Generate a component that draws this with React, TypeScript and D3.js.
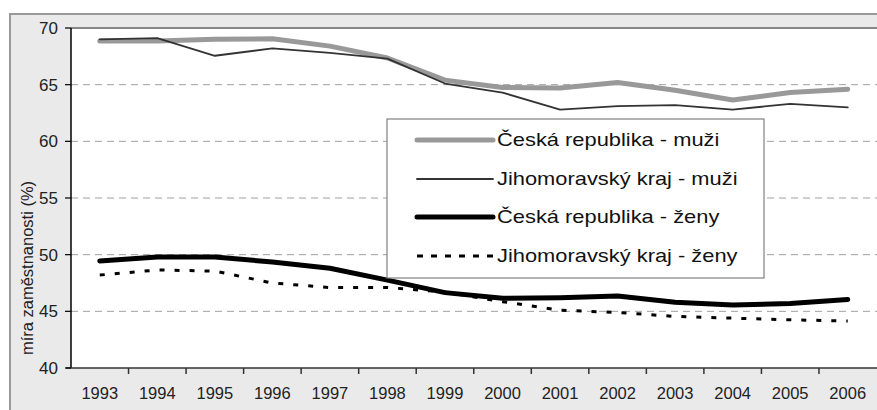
import * as d3 from "d3";

const years = [
  "1993", "1994", "1995", "1996", "1997", "1998", "1999",
  "2000", "2001", "2002", "2003", "2004", "2005", "2006",
];
const crMuzi = [68.85, 68.85, 69.0, 69.05, 68.4, 67.35, 65.4, 64.75, 64.7, 65.2, 64.5, 63.65, 64.3, 64.6];
const jmkMuzi = [69.0, 69.1, 67.55, 68.2, 67.8, 67.3, 65.1, 64.3, 62.8, 63.1, 63.2, 62.8, 63.3, 63.0];
const crZeny = [49.45, 49.8, 49.8, 49.35, 48.8, 47.75, 46.65, 46.15, 46.2, 46.35, 45.8, 45.55, 45.7, 46.05];
const jmkZeny = [48.2, 48.65, 48.55, 47.5, 47.1, 47.1, 46.7, 45.85, 45.1, 44.9, 44.55, 44.4, 44.25, 44.15];
const yTicks = [40, 45, 50, 55, 60, 65, 70];

const series = [
  { name: "Česká republika - muži", values: crMuzi, color: "#999999", width: 5, dash: "" },
  { name: "Jihomoravský kraj - muži", values: jmkMuzi, color: "#333333", width: 1.8, dash: "" },
  { name: "Česká republika - ženy", values: crZeny, color: "#000000", width: 5, dash: "" },
  { name: "Jihomoravský kraj - ženy", values: jmkZeny, color: "#000000", width: 3, dash: "5 10" },
];

export default function App() {
  const width = 877;
  const height = 410;
  const plot = { left: 71, top: 28, right: 876.5, bottom: 368 };
  const font = "'Liberation Sans', Arial, sans-serif";

  const x = d3.scaleBand().domain(years).range([plot.left, plot.right]);
  const y = d3.scaleLinear().domain([40, 70]).range([plot.bottom, plot.top]);
  const cx = (year: string) => (x(year) ?? 0) + x.bandwidth() / 2;

  const line = (values: number[]) =>
    d3
      .line<number>()
      .x((_, i) => cx(years[i]))
      .y((v) => y(v))(values) ?? "";

  const legend = { x: 387, y: 119, w: 377, h: 159 };
  const legendRows = [140, 179, 217, 256];

  return (
    <svg
      width={width}
      height={height}
      style={{ position: "absolute", left: 0, top: 0, display: "block" }}
      fontFamily={font}
    >
      <rect x={0} y={0} width={width} height={height} fill="#ffffff" />
      <rect x={10} y={14} width={width + 20} height={height + 20} fill="#eaeaea" stroke="#999999" strokeWidth={2} />
      <rect x={plot.left} y={plot.top} width={plot.right - plot.left + 10} height={plot.bottom - plot.top} fill="#ffffff" />
      <line x1={plot.left} x2={width} y1={plot.top} y2={plot.top} stroke="#888888" strokeWidth={2} />

      {yTicks
        .filter((t) => t > 40 && t < 70)
        .map((t) => (
          <line
            key={`g${t}`}
            x1={plot.left}
            x2={width}
            y1={y(t)}
            y2={y(t)}
            stroke="#a0a0a0"
            strokeWidth={1}
            strokeDasharray="7 5"
          />
        ))}

      {series.map((s) => (
        <path
          key={s.name}
          d={line(s.values)}
          fill="none"
          stroke={s.color}
          strokeWidth={s.width}
          strokeDasharray={s.dash || undefined}
          strokeLinejoin="round"
          strokeLinecap={s.dash ? "butt" : "round"}
        />
      ))}

      <line x1={plot.left} x2={plot.left} y1={plot.top} y2={plot.bottom} stroke="#000" strokeWidth={1.5} />
      <line x1={plot.left - 5} x2={width} y1={plot.bottom} y2={plot.bottom} stroke="#333" strokeWidth={1.5} />
      {yTicks.map((t) => (
        <g key={`y${t}`}>
          <line x1={plot.left - 6} x2={plot.left} y1={y(t)} y2={y(t)} stroke="#000" strokeWidth={1.2} />
          <text x={58} y={y(t)} dy="0.36em" textAnchor="end" fontSize={17} fill="#222">
            {t}
          </text>
        </g>
      ))}
      {years.map((yr, i) => (
        <g key={yr}>
          {i > 0 && (
            <line
              x1={x(yr) ?? 0}
              x2={x(yr) ?? 0}
              y1={plot.bottom}
              y2={plot.bottom + 6}
              stroke="#333"
              strokeWidth={1.5}
            />
          )}
          <text x={cx(yr)} y={399} textAnchor="middle" fontSize={16.5} fill="#222">
            {yr}
          </text>
        </g>
      ))}

      <text
        transform={`translate(33, 268) rotate(-90)`}
        textAnchor="middle"
        fontSize={16.5}
        fill="#222"
      >
        míra zaměstnanosti (%)
      </text>

      <rect x={legend.x} y={legend.y} width={legend.w} height={legend.h} fill="#ffffff" stroke="#808080" strokeWidth={1.2} />
      {series.map((s, i) => (
        <g key={`l${s.name}`}>
          <line
            x1={417}
            x2={493}
            y1={legendRows[i]}
            y2={legendRows[i]}
            stroke={s.color}
            strokeWidth={s.width}
            strokeDasharray={s.dash ? "6 8" : undefined}
            strokeLinecap={s.dash ? "butt" : "round"}
          />
          <text
            transform={`translate(497, ${legendRows[i]}) scale(1.25, 1)`}
            dy="0.36em"
            fontSize={17.5}
            fill="#111"
          >
            {s.name}
          </text>
        </g>
      ))}
    </svg>
  );
}
